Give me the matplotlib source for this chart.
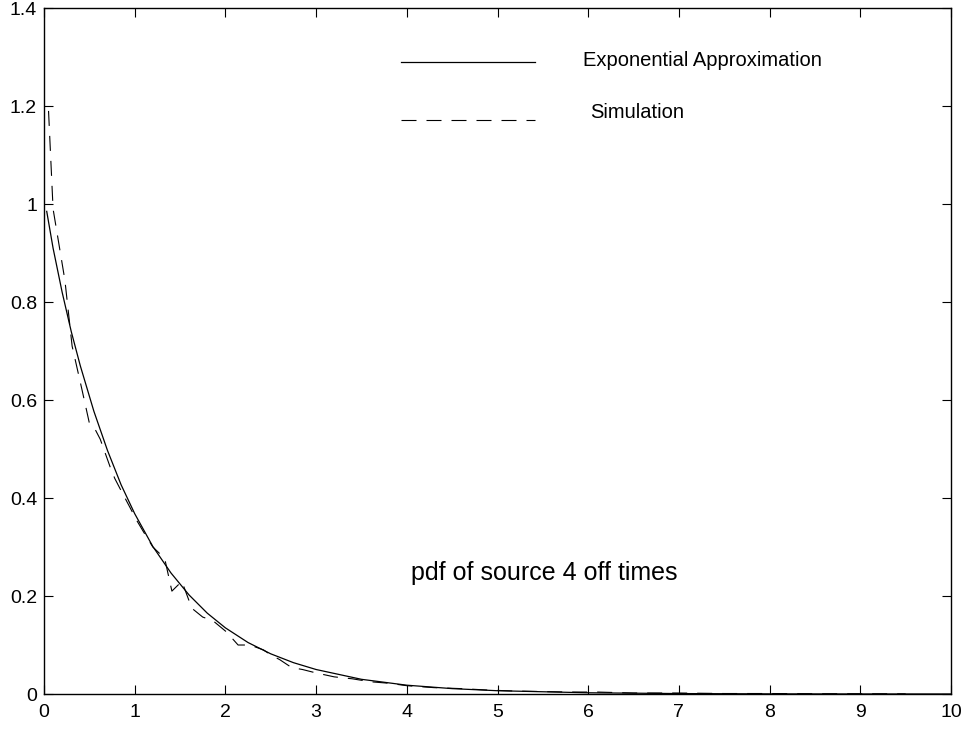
import matplotlib.pyplot as plt
import numpy as np

plt.rcParams['font.family'] = ['Liberation Sans', 'DejaVu Sans']

# Exponential approximation
exp_x = [0.03, 0.1, 0.2, 0.3, 0.4, 0.55, 0.7, 0.85, 1.0, 1.2, 1.4, 1.6, 1.8, 2.0,
         2.25, 2.5, 2.75, 3.0, 3.5, 4.0, 4.5, 5.0, 6.0, 7.0, 8.0, 9.0, 10.0]
exp_y = [0.985, 0.91, 0.82, 0.74, 0.67, 0.577, 0.497, 0.427, 0.368, 0.301, 0.247,
         0.202, 0.165, 0.135, 0.105, 0.082, 0.064, 0.050, 0.030, 0.018, 0.011,
         0.0067, 0.0025, 0.0009, 0.0003, 0.0001, 0.00005]

# Simulation
sim_x = [0.05, 0.10, 0.23, 0.31, 0.42, 0.50, 0.55, 0.62, 0.73, 0.78, 0.85, 0.95,
         1.02, 1.10, 1.20, 1.33, 1.41, 1.52, 1.63, 1.75, 1.86, 2.01, 2.14, 2.27,
         2.42, 2.50, 2.60, 2.73, 2.85, 3.0, 3.2, 3.4, 3.6, 3.8, 4.0, 4.3, 4.6,
         4.9, 5.2, 5.5, 5.8, 6.1, 6.5, 7.0, 7.5, 8.0, 8.5, 9.0, 9.5]
sim_y = [1.19, 0.99, 0.845, 0.71, 0.62, 0.553, 0.545, 0.52, 0.463, 0.44, 0.415,
         0.38, 0.355, 0.33, 0.30, 0.277, 0.21, 0.23, 0.175, 0.157, 0.15, 0.127,
         0.10, 0.10, 0.09, 0.08, 0.07, 0.054, 0.05, 0.043, 0.035, 0.031, 0.025,
         0.022, 0.017, 0.013, 0.011, 0.008, 0.006, 0.005, 0.004, 0.004, 0.002,
         0.002, 0.001, 0.001, 0.0005, 0.0005, 0.0003]

fig = plt.figure(figsize=(9.65, 7.3), dpi=100)
ax = fig.add_axes([0.0456, 0.0493, 0.9399, 0.9397])

ax.plot(exp_x, exp_y, color='black', lw=0.9)
ax.plot(sim_x, sim_y, color='black', lw=0.8, dashes=(13.5, 9))

# hand-drawn legend like the original
ax.plot([0.394, 0.541], [0.921, 0.921], color='black', lw=0.9, transform=ax.transAxes)
ax.plot([0.394, 0.541], [0.837, 0.837], color='black', lw=0.8, dashes=(13.5, 9),
        transform=ax.transAxes)
ax.text(0.594, 0.924, 'Exponential Approximation', transform=ax.transAxes,
        fontsize=14.5, va='center', ha='left')
ax.text(0.602, 0.848, 'Simulation', transform=ax.transAxes,
        fontsize=14.5, va='center', ha='left')

ax.text(4.05, 0.246, 'pdf of source 4 off times', fontsize=18, va='center', ha='left')

ax.set_xlim(0, 10)
ax.set_ylim(0, 1.4)
ax.set_xticks(np.arange(0, 11, 1))
ax.set_yticks([0, 0.2, 0.4, 0.6, 0.8, 1, 1.2, 1.4])
ax.set_yticklabels(['0', '0.2', '0.4', '0.6', '0.8', '1', '1.2', '1.4'])
ax.tick_params(direction='in', length=6.5, width=0.8, top=True, right=True,
               labelsize=14)
ax.tick_params(axis='x', pad=7)
ax.tick_params(axis='y', pad=5)
for s in ax.spines.values():
    s.set_linewidth(1.0)

fig.savefig('out.png', dpi=100)
